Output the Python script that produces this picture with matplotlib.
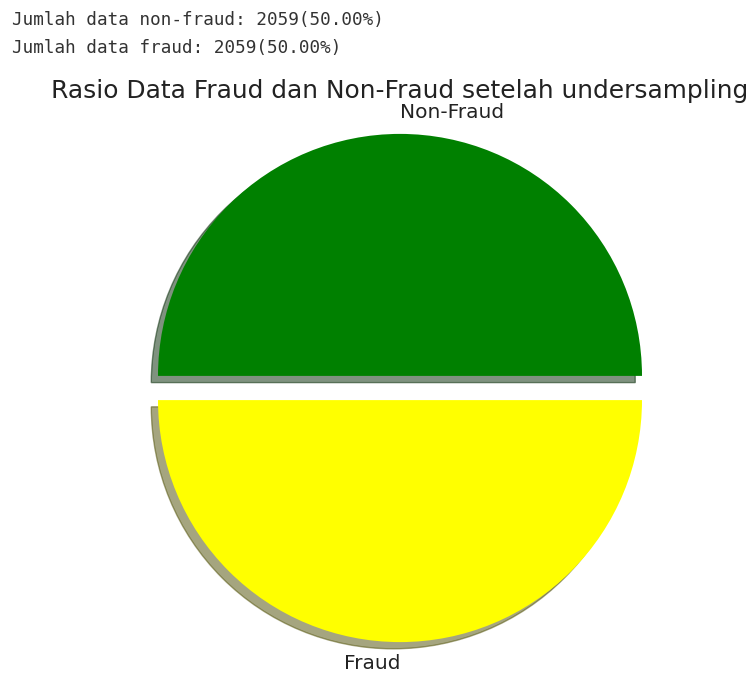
import matplotlib
matplotlib.use("Agg")
import matplotlib.pyplot as plt

labels = ["Non-Fraud", "Fraud"]
counts = [2059, 2059]
colors = ["green", "yellow"]
explode = [0.05, 0.05]
title = "Rasio Data Fraud dan Non-Fraud setelah undersampling"

W, H = 751, 675
fig = plt.figure(figsize=(W / 100, H / 100), dpi=100)

total = sum(counts)
lines = [
    f"Jumlah data non-fraud: {counts[0]}({counts[0] / total * 100:.2f}%)",
    f"Jumlah data fraud: {counts[1]}({counts[1] / total * 100:.2f}%)",
]
for i, s in enumerate(lines):
    fig.text(12 / W, 1 - (20 + i * 28) / H, s, family="DejaVu Sans Mono",
             fontsize=12.7, color="#333333", va="center", ha="left")

cx, cy, r = 400, 388, 242
side = 2.5 * r
ax = fig.add_axes([(cx - side / 2) / W, 1 - (cy + side / 2) / H, side / W, side / H])
wedges, texts = ax.pie(counts, labels=labels, colors=colors, explode=explode,
                       shadow=True, labeldistance=1.09,
                       textprops={"fontsize": 14.5, "color": "#222222"})
texts[0].set_ha("left")
texts[1].set_ha("right")
fig.text(cx / W, 1 - 98 / H, title, fontsize=17.9, ha="center", va="baseline",
         color="#222222")

fig.savefig("out.png", dpi=100)
